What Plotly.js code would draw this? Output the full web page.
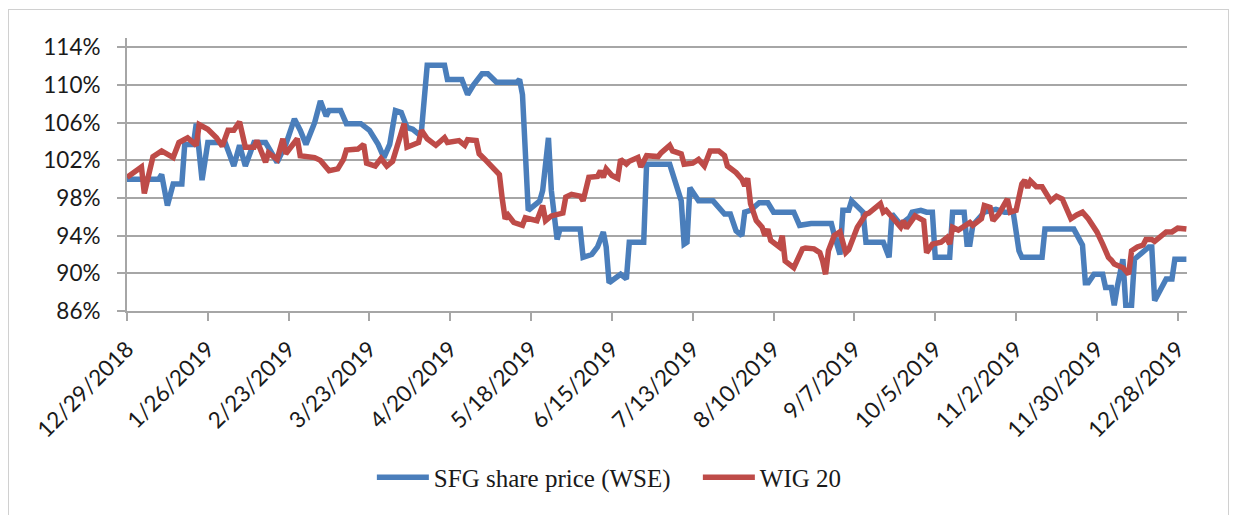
<!DOCTYPE html>
<html>
<head>
<meta charset="utf-8">
<script src="https://cdn.plot.ly/plotly-3.0.1.min.js"></script>
<style>
  html, body { margin: 0; padding: 0; background: #fff; }
  #wrap { position: relative; width: 1235px; height: 515px; overflow: hidden; }
  #chart { position: absolute; left: 0; top: 0; width: 1235px; height: 515px; }
  #frame { position: absolute; left: 8px; top: 9px; width: 1219px; height: 520px; border: 1px solid #d0d0d0; pointer-events: none; }
</style>
</head>
<body>
<div id="wrap">
  <div id="chart"></div>
  <div id="frame"></div>
</div>
<script>
// ---- data ----
const sfgDates = ['2018-12-29','2019-01-09','2019-01-10','2019-01-12','2019-01-14','2019-01-17','2019-01-18','2019-01-21','2019-01-22','2019-01-24','2019-01-26','2019-02-01','2019-02-04','2019-02-06','2019-02-08','2019-02-11','2019-02-15','2019-02-19','2019-02-22','2019-02-25','2019-02-27','2019-03-01','2019-03-04','2019-03-06','2019-03-08','2019-03-09','2019-03-13','2019-03-15','2019-03-20','2019-03-23','2019-03-26','2019-03-28','2019-03-30','2019-04-01','2019-04-03','2019-04-05','2019-04-07','2019-04-09','2019-04-10','2019-04-11','2019-04-12','2019-04-18','2019-04-19','2019-04-24','2019-04-26','2019-04-28','2019-05-01','2019-05-03','2019-05-06','2019-05-13','2019-05-14','2019-05-15','2019-05-17','2019-05-21','2019-05-22','2019-05-24','2019-05-25','2019-05-27','2019-05-28','2019-06-04','2019-06-05','2019-06-08','2019-06-10','2019-06-12','2019-06-13','2019-06-14','2019-06-16','2019-06-18','2019-06-20','2019-06-21','2019-06-26','2019-06-27','2019-07-05','2019-07-07','2019-07-09','2019-07-10','2019-07-11','2019-07-12','2019-07-15','2019-07-20','2019-07-22','2019-07-24','2019-07-26','2019-07-28','2019-07-30','2019-07-31','2019-08-02','2019-08-05','2019-08-08','2019-08-10','2019-08-17','2019-08-19','2019-08-23','2019-08-30','2019-08-31','2019-09-01','2019-09-02','2019-09-03','2019-09-05','2019-09-06','2019-09-08','2019-09-10','2019-09-11','2019-09-17','2019-09-19','2019-09-20','2019-09-23','2019-09-26','2019-09-27','2019-09-30','2019-10-02','2019-10-04','2019-10-05','2019-10-10','2019-10-11','2019-10-15','2019-10-16','2019-10-17','2019-10-18','2019-10-20','2019-10-22','2019-10-26','2019-10-29','2019-11-01','2019-11-03','2019-11-04','2019-11-11','2019-11-12','2019-11-22','2019-11-25','2019-11-26','2019-11-27','2019-11-29','2019-12-02','2019-12-03','2019-12-05','2019-12-06','2019-12-07','2019-12-09','2019-12-10','2019-12-12','2019-12-13','2019-12-18','2019-12-19','2019-12-20','2019-12-24','2019-12-26','2019-12-27','2019-12-31'];
const sfgValues = [100.0,100.0,100.5,97.2,99.5,99.5,103.7,103.7,105.9,99.9,103.9,103.9,101.4,103.6,101.4,103.9,103.9,101.8,103.7,106.4,105.2,103.7,106.0,108.3,106.7,107.3,107.3,105.9,105.9,105.2,103.7,102.3,103.7,107.3,107.1,105.5,105.3,104.8,105.1,108.7,112.1,112.1,110.6,110.6,109.0,110.0,111.2,111.2,110.3,110.3,110.6,109.0,96.7,97.7,98.8,104.4,98.8,93.6,94.7,94.7,91.7,92.0,92.8,94.4,92.8,89.0,89.5,89.9,89.4,93.3,93.3,101.6,101.6,99.5,97.7,93.1,93.3,99.1,97.7,97.7,97.0,96.3,96.3,94.5,94.0,96.5,96.7,97.5,97.5,96.5,96.5,95.1,95.3,95.3,94.1,92.8,92.0,96.7,96.7,97.7,97.0,96.5,93.3,93.3,91.7,96.3,95.2,95.9,96.5,96.7,96.5,96.5,91.7,91.7,96.5,96.5,93.1,93.1,95.1,95.8,96.5,96.8,96.5,96.5,92.4,91.7,91.7,94.7,94.7,93.0,89.0,89.0,89.9,89.9,88.5,88.5,86.6,88.5,91.5,86.6,86.6,91.5,92.8,92.8,87.1,89.4,89.4,91.5,91.5];

const wigDates = ['2018-12-29','2019-01-03','2019-01-04','2019-01-07','2019-01-10','2019-01-14','2019-01-16','2019-01-19','2019-01-22','2019-01-23','2019-01-26','2019-01-29','2019-01-31','2019-02-02','2019-02-04','2019-02-06','2019-02-08','2019-02-11','2019-02-12','2019-02-15','2019-02-16','2019-02-19','2019-02-21','2019-02-22','2019-02-26','2019-02-27','2019-03-04','2019-03-06','2019-03-09','2019-03-12','2019-03-14','2019-03-15','2019-03-19','2019-03-21','2019-03-22','2019-03-25','2019-03-27','2019-03-29','2019-03-31','2019-04-01','2019-04-04','2019-04-05','2019-04-09','2019-04-10','2019-04-12','2019-04-15','2019-04-18','2019-04-19','2019-04-23','2019-04-25','2019-04-26','2019-04-29','2019-04-30','2019-05-02','2019-05-03','2019-05-05','2019-05-07','2019-05-08','2019-05-09','2019-05-10','2019-05-12','2019-05-15','2019-05-16','2019-05-20','2019-05-22','2019-05-23','2019-05-25','2019-05-29','2019-05-30','2019-06-01','2019-06-04','2019-06-05','2019-06-07','2019-06-10','2019-06-11','2019-06-12','2019-06-13','2019-06-15','2019-06-17','2019-06-18','2019-06-20','2019-06-21','2019-06-24','2019-06-25','2019-06-27','2019-07-01','2019-07-02','2019-07-05','2019-07-06','2019-07-09','2019-07-10','2019-07-13','2019-07-15','2019-07-17','2019-07-19','2019-07-22','2019-07-24','2019-07-25','2019-07-28','2019-07-30','2019-07-31','2019-08-01','2019-08-02','2019-08-04','2019-08-06','2019-08-07','2019-08-08','2019-08-09','2019-08-12','2019-08-13','2019-08-14','2019-08-17','2019-08-18','2019-08-20','2019-08-21','2019-08-24','2019-08-26','2019-08-27','2019-08-28','2019-08-29','2019-08-31','2019-09-02','2019-09-04','2019-09-05','2019-09-08','2019-09-11','2019-09-12','2019-09-16','2019-09-17','2019-09-18','2019-09-23','2019-09-24','2019-09-25','2019-09-28','2019-10-01','2019-10-02','2019-10-04','2019-10-07','2019-10-09','2019-10-10','2019-10-11','2019-10-13','2019-10-17','2019-10-18','2019-10-21','2019-10-22','2019-10-24','2019-10-25','2019-10-27','2019-10-30','2019-10-31','2019-11-02','2019-11-04','2019-11-05','2019-11-06','2019-11-07','2019-11-09','2019-11-11','2019-11-14','2019-11-16','2019-11-18','2019-11-21','2019-11-23','2019-11-25','2019-11-27','2019-11-30','2019-12-02','2019-12-04','2019-12-05','2019-12-06','2019-12-09','2019-12-11','2019-12-12','2019-12-14','2019-12-16','2019-12-17','2019-12-19','2019-12-20','2019-12-24','2019-12-26','2019-12-28','2019-12-31'];
const wigValues = [100.2,101.3,98.5,102.4,103.0,102.3,103.9,104.4,103.6,105.8,105.3,104.4,103.5,105.2,105.2,106.1,103.4,103.4,104.1,101.8,102.8,102.1,104.3,102.7,104.3,102.5,102.3,102.0,100.9,101.1,102.1,103.1,103.2,103.7,101.7,101.4,102.2,101.4,101.9,102.8,105.9,103.4,103.9,105.2,104.3,103.6,104.4,103.9,104.1,103.6,104.2,104.1,102.7,102.1,101.8,101.3,100.5,97.9,95.8,96.2,95.4,95.1,95.9,95.6,97.2,95.6,96.1,96.4,98.1,98.4,98.2,97.7,100.2,100.3,100.9,100.2,101.1,100.4,100.1,102.1,101.6,101.9,102.3,101.3,102.5,102.4,102.8,103.6,103.0,102.7,101.6,101.7,102.1,101.4,103.0,103.0,102.5,101.4,100.7,100.0,99.3,100.1,97.4,95.6,94.9,94.0,94.7,93.5,92.8,94.0,91.3,90.6,91.3,92.6,92.7,92.6,92.2,91.3,89.9,92.4,94.0,94.4,92.2,92.5,94.9,96.3,96.4,97.4,96.5,96.7,94.9,95.6,94.8,96.1,95.6,92.2,93.1,93.3,93.8,93.1,94.9,94.6,95.4,95.1,95.8,97.2,97.0,95.6,96.3,97.9,96.5,96.7,99.5,99.9,99.1,99.8,99.2,99.2,97.7,98.2,97.9,95.8,96.2,96.5,95.8,94.4,93.1,91.7,91.4,91.0,90.6,89.9,92.4,92.8,93.0,93.6,93.6,93.4,94.4,94.4,94.8,94.7];

const xTickVals = ['2018-12-29','2019-01-26','2019-02-23','2019-03-23','2019-04-20','2019-05-18','2019-06-15','2019-07-13','2019-08-10','2019-09-07','2019-10-05','2019-11-02','2019-11-30','2019-12-28'];
const xTickText = ['12/29/2018','1/26/2019','2/23/2019','3/23/2019','4/20/2019','5/18/2019','6/15/2019','7/13/2019','8/10/2019','9/7/2019','10/5/2019','11/2/2019','11/30/2019','12/28/2019'];
const yTickVals = [86, 90, 94, 98, 102, 106, 110, 114];
const yTickText = ['86%','90%','94%','98%','102%','106%','110%','114%'];
const seriesNames = ['SFG share price (WSE)', 'WIG 20'];

// ---- chart ----
const gridCol = '#a6a6a6';
const traces = [
  { x: sfgDates, y: sfgValues, name: seriesNames[0], type: 'scatter', mode: 'lines',
    line: { color: '#4a7ebb', width: 5.5 } },
  { x: wigDates, y: wigValues, name: seriesNames[1], type: 'scatter', mode: 'lines',
    line: { color: '#be4b48', width: 5.5 } }
];

const layout = {
  width: 1235, height: 515,
  margin: { l: 127, r: 48, t: 38, b: 204 },
  paper_bgcolor: '#ffffff', plot_bgcolor: '#ffffff',
  font: { family: 'Lato, "Liberation Sans", sans-serif', size: 22, color: '#1a1a1a' },
  showlegend: true,
  legend: {
    orientation: 'h', x: 0.231, xanchor: 'left', y: -0.61, yanchor: 'middle',
    font: { family: '"Liberation Serif", "DejaVu Serif", serif', size: 25, color: '#1a1a1a' },
    itemwidth: 52, tracegroupgap: 0,
    entrywidth: 259, entrywidthmode: 'pixels'
  },
  xaxis: {
    type: 'date',
    range: ['2018-12-29', '2019-12-31 05:00'],
    tickmode: 'array', tickvals: xTickVals, ticktext: xTickText,
    tickangle: -45,
    showgrid: false, zeroline: false,
    showline: true, linecolor: gridCol, linewidth: 2,
    ticks: 'outside', ticklen: 8, tickwidth: 2, tickcolor: gridCol,
    ticklabelstandoff: 6,
    tickfont: { size: 22.5 }
  },
  yaxis: {
    range: [86, 115],
    tickmode: 'array', tickvals: yTickVals, ticktext: yTickText,
    showgrid: true, gridcolor: gridCol, gridwidth: 2,
    zeroline: false,
    showline: true, linecolor: gridCol, linewidth: 2,
    ticks: 'outside', ticklen: 8, tickwidth: 2, tickcolor: gridCol,
    ticklabelstandoff: 12,
    tickfont: { size: 22.5 }
  }
};

Plotly.newPlot('chart', traces, layout, { displayModeBar: false, staticPlot: true });
</script>
</body>
</html>
